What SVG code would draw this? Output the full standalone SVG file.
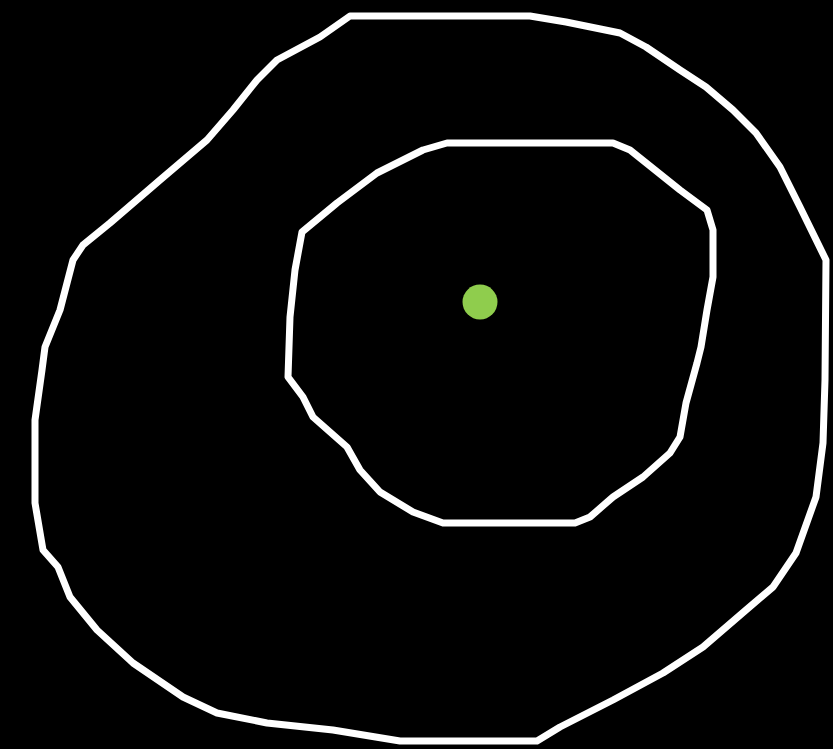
<svg xmlns="http://www.w3.org/2000/svg" width="833" height="749" viewBox="0 0 833 749">
<style>
.ring{fill:none;stroke:#ffffff;stroke-width:7;stroke-linejoin:round;stroke-linecap:round}
.dot{fill:#8fcd4d}
</style>
<rect x="0" y="0" width="833" height="749" fill="#000000"/>
<g id="outer-ring">
<polygon class="ring" points="350,16 530,16 566,22 620,33 646,47 680,70 706,87 733,110 756,133 780,167 800,207 826,260 825,380 823,443 816,497 796,553 773,587 746,610 703,647 663,673 613,700 560,727 537,741 400,741 333,730 267,723 217,713 183,697 133,663 97,630 70,597 58,567 43,550 35,503 35,420 42,370 45,347 60,310 73,260 83,245 110,223 160,180 207,140 233,110 257,80 277,60 320,37"/>
</g>
<g id="inner-ring">
<polygon class="ring" points="447,143 613,143 630,150 680,190 707,210 713,230 713,277 707,310 701,347 697,363 686,403 680,437 670,453 643,477 613,497 590,517 575,523 443,523 413,512 380,492 360,470 347,447 313,417 303,397 288,377 290,317 295,270 302,232 337,203 377,173 423,150"/>
</g>
<g id="center-dot">
<circle class="dot" cx="480" cy="302" r="17.5"/>
</g>
</svg>
